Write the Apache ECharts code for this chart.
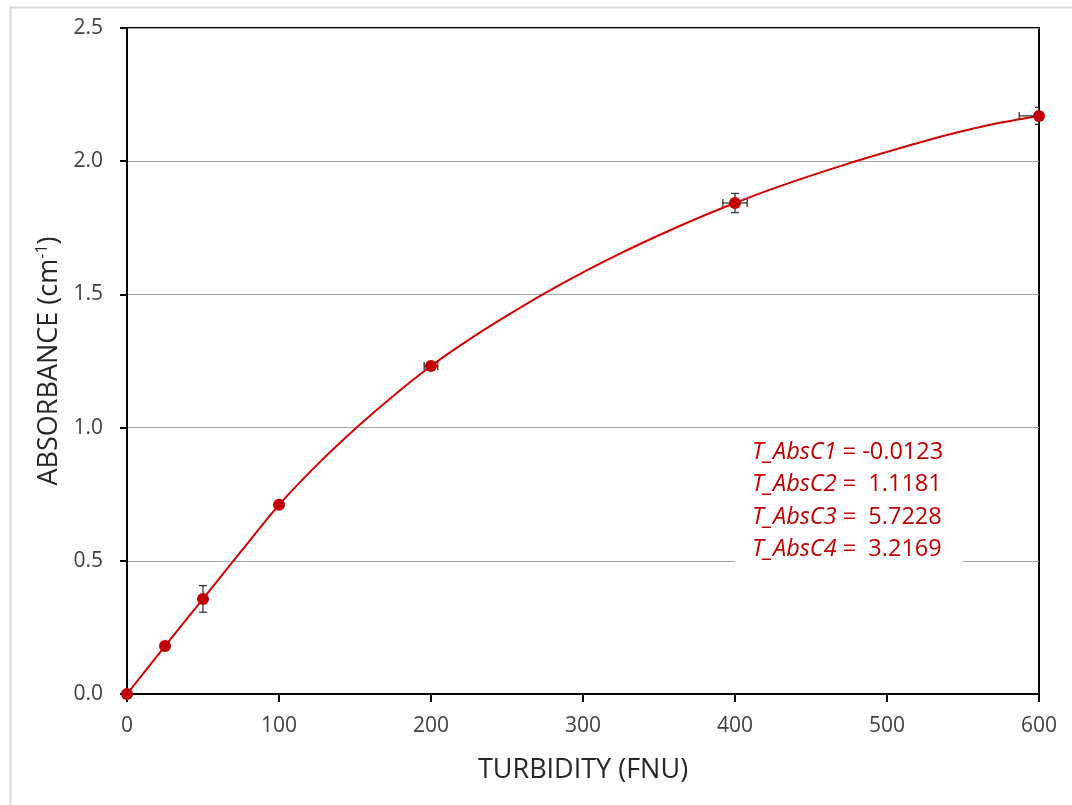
<!DOCTYPE html>
<html>
<head>
<meta charset="utf-8">
<script src="https://cdn.jsdelivr.net/npm/echarts@6/dist/echarts.min.js"></script>
<style>
  html, body { margin: 0; padding: 0; background: #fff; }
  #chart { width: 1072px; height: 805px; }
</style>
</head>
<body>
<div id="chart"></div>
<script>
// Measured standards: turbidity (FNU) vs absorbance (cm^-1)
const turbidity = [0, 25, 50, 100, 200, 400, 600];
const absorbance = [0.0, 0.18, 0.357, 0.71, 1.231, 1.843, 2.17];
const turbidityErr = [0, 1, 1, 2, 4.5, 8, 13];
const absorbanceErr = [0, 0.005, 0.05, 0.01, 0.01, 0.036, 0.032];

// Calibration fit curve
const fitX = [0, 25, 50, 75, 100, 125, 150, 175, 200, 225, 250, 275, 300, 325, 350, 375, 400, 425, 450, 475, 500, 525, 550, 575, 600];
const fitY = [0.0, 0.18, 0.357, 0.535, 0.71, 0.86, 0.995, 1.118, 1.231, 1.33, 1.42, 1.505, 1.583, 1.655, 1.722, 1.785, 1.843, 1.897, 1.946, 1.992, 2.035, 2.076, 2.113, 2.145, 2.17];

// Fit coefficients
const coefNames = ['T_AbsC1', 'T_AbsC2', 'T_AbsC3', 'T_AbsC4'];
const coefValues = ['-0.0123', ' 1.1181', ' 5.7228', ' 3.2169'];

const xTicks = [0, 100, 200, 300, 400, 500, 600];
const yTicks = ['0.0', '0.5', '1.0', '1.5', '2.0', '2.5'];

const RED = '#c00000';
const FONT = '"Open Sans", "Noto Sans", sans-serif';

const chart = echarts.init(document.getElementById('chart'));

const points = turbidity.map((x, i) => [x, absorbance[i]]);
const errData = turbidity.map((x, i) => [x, absorbance[i], turbidityErr[i], absorbanceErr[i]]);
const fitData = fitX.map((x, i) => [x, fitY[i]]);

function renderErr(params, api) {
  const x = api.value(0), y = api.value(1), dx = api.value(2), dy = api.value(3);
  const children = [];
  const cap = 4;
  const style = { stroke: '#333', lineWidth: 1.3 };
  if (dy > 0) {
    const top = api.coord([x, y + dy]);
    const bot = api.coord([x, y - dy]);
    children.push({ type: 'line', shape: { x1: top[0], y1: top[1], x2: bot[0], y2: bot[1] }, style });
    children.push({ type: 'line', shape: { x1: top[0] - cap, y1: top[1], x2: top[0] + cap, y2: top[1] }, style });
    children.push({ type: 'line', shape: { x1: bot[0] - cap, y1: bot[1], x2: bot[0] + cap, y2: bot[1] }, style });
  }
  if (dx > 0) {
    const l = api.coord([x - dx, y]);
    const r = api.coord([x + dx, y]);
    children.push({ type: 'line', shape: { x1: l[0], y1: l[1], x2: r[0], y2: r[1] }, style });
    children.push({ type: 'line', shape: { x1: l[0], y1: l[1] - cap, x2: l[0], y2: l[1] + cap }, style });
    children.push({ type: 'line', shape: { x1: r[0], y1: r[1] - cap, x2: r[0], y2: r[1] + cap }, style });
  }
  return { type: 'group', children };
}

// Coefficient annotation, one line per coefficient
const coefLines = coefNames.map((n, i) => `{n|${n}}{v| = ${coefValues[i]}}`).join('\n');

chart.setOption({
  animation: false,
  backgroundColor: '#fff',
  grid: {
    left: 127, top: 28, right: 33, bottom: 111,
    show: true, borderColor: '#000', borderWidth: 2, backgroundColor: 'transparent'
  },
  xAxis: {
    type: 'value', min: 0, max: 600, interval: 100,
    name: 'TURBIDITY (FNU)', nameLocation: 'middle', nameGap: 63,
    nameTextStyle: { fontFamily: FONT, fontSize: 27, color: '#262626' },
    axisLine: { show: true, lineStyle: { color: '#000', width: 2 } },
    axisTick: { show: true, length: 8, lineStyle: { color: '#000', width: 2 } },
    axisLabel: {
      margin: 22, fontFamily: FONT, fontSize: 21, color: '#404040',
      formatter: v => xTicks.includes(v) ? String(v) : ''
    },
    splitLine: { show: false }
  },
  yAxis: {
    type: 'value', min: 0, max: 2.5, interval: 0.5,
    name: 'ABSORBANCE (cm{sup|-1})', nameLocation: 'middle', nameGap: 62,
    nameTextStyle: {
      fontFamily: FONT, fontSize: 27, color: '#262626',
      rich: {
        sup: { fontFamily: FONT, fontSize: 16, color: '#262626', verticalAlign: 'top', lineHeight: 30, padding: [0, 0, 12, 0] }
      }
    },
    axisLine: { show: true, lineStyle: { color: '#000', width: 2 } },
    axisTick: { show: true, length: 7, lineStyle: { color: '#000', width: 2 } },
    axisLabel: {
      margin: 24, fontFamily: FONT, fontSize: 21, color: '#404040',
      formatter: v => yTicks[Math.round(v / 0.5)]
    },
    splitLine: { show: true, lineStyle: { color: '#a6a6a6', width: 1 } }
  },
  series: [
    {
      type: 'line', data: fitData, showSymbol: false, symbol: 'none', smooth: 0.3,
      lineStyle: { color: '#d00000', width: 2 }, z: 2, silent: true
    },
    {
      type: 'custom', data: errData, renderItem: renderErr, z: 3, silent: true,
      clip: true, encode: { x: 0, y: 1 }
    },
    {
      type: 'scatter', data: points, symbol: 'circle', symbolSize: 12,
      itemStyle: { color: RED, opacity: 1 }, z: 4, silent: true
    }
  ],
  graphic: [
    // light frame around the chart area
    { type: 'rect', shape: { x: 10.5, y: 7.5, width: 1200, height: 900 },
      style: { fill: 'none', stroke: '#d9d9d9', lineWidth: 2 }, z: -10, silent: true },
    // coefficient box
    { type: 'rect', shape: { x: 735, y: 434, width: 228, height: 134 },
      style: { fill: '#fff' }, z: 50, silent: true },
    { type: 'text', x: 752, y: 436, z: 51, silent: true,
      style: {
        text: coefLines,
        rich: {
          n: { fontFamily: FONT, fontSize: 23.5, fontStyle: 'italic', fill: RED, lineHeight: 32.5 },
          v: { fontFamily: FONT, fontSize: 23.5, fill: RED, lineHeight: 32.5 }
        }
      }
    }
  ]
});
</script>
</body>
</html>
